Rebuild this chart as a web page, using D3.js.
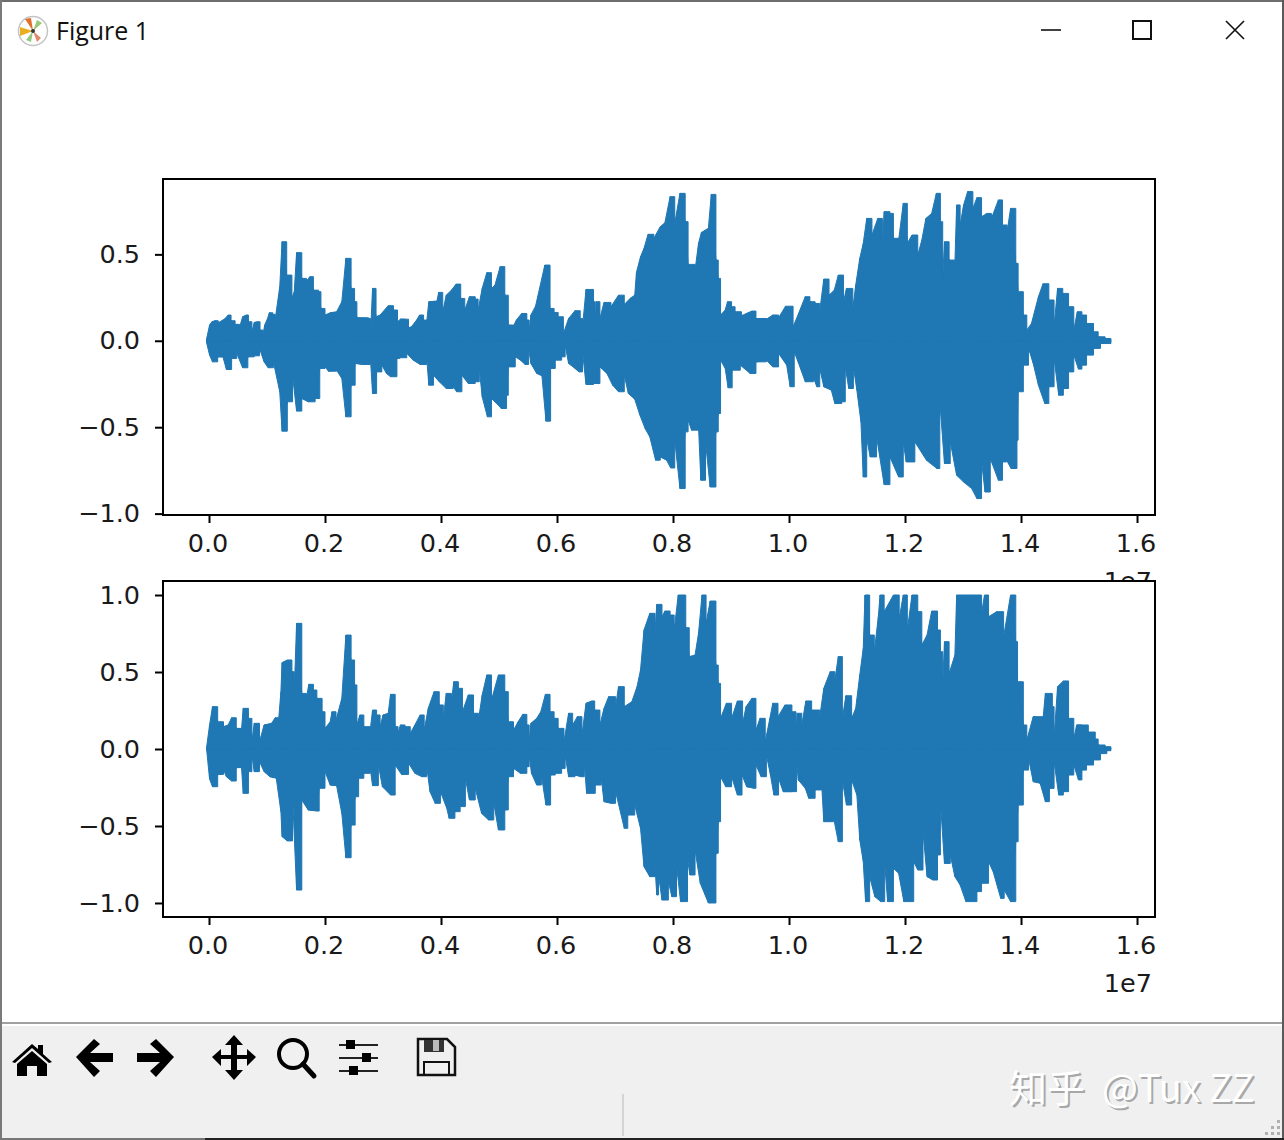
<!DOCTYPE html>
<html>
<head>
<meta charset="utf-8">
<script src="https://cdn.jsdelivr.net/npm/d3@7"></script>
<style>
html, body { margin: 0; padding: 0; background: #fff; overflow: hidden; }
text { font-family: "DejaVu Sans", sans-serif; }
</style>
</head>
<body>
<div id="wrapper"></div>
<script>
// envelope of the waveform, [sample / 1e7, amplitude]
const ch1Top = [[-.004,.013],[.001,.091],[.005,.11],[.010,.116],[.016,.104],[.022,.116],[.028,.129],[.033,.149],[.038,.116],[.045,.095],[.053,.081],[.058,.139],[.064,.149],[.068,.110],[.074,.052],[.078,.106],[.083,.110],[.088,.062],[.093,.033],[.096,.091],[.101,.129],[.104,.162],[.110,.153],[.114,.120],[.122,.313],[.126,.573],[.134,.380],[.143,.249],[.147,.284],[.151,.510],[.160,.361],[.168,.346],[.174,.371],[.180,.293],[.189,.284],[.193,.187],[.200,.149],[.209,.162],[.220,.168],[.229,.226],[.236,.477],[.245,.303],[.251,.226],[.255,.133],[.275,.129],[.279,.081],[.282,.303],[.288,.139],[.295,.149],[.309,.203],[.318,.178],[.325,.110],[.330,.125],[.338,.125],[.344,.075],[.349,.081],[.358,.120],[.363,.149],[.370,.120],[.375,.100],[.379,.226],[.393,.230],[.396,.280],[.403,.168],[.409,.264],[.418,.293],[.426,.328],[.434,.245],[.441,.178],[.449,.255],[.459,.241],[.464,.178],[.471,.303],[.479,.394],[.487,.303],[.493,.322],[.502,.429],[.510,.264],[.516,.091],[.525,.087],[.530,.120],[.539,.158],[.548,.120],[.552,.052],[.555,.149],[.563,.200],[.579,.438],[.588,.187],[.595,.164],[.602,.139],[.611,.042],[.620,.129],[.631,.174],[.640,.129],[.644,.081],[.650,.297],[.663,.226],[.666,.125],[.668,.226],[.674,.129],[.681,.222],[.693,.197],[.706,.264],[.716,.210],[.726,.245],[.734,.264],[.737,.396],[.744,.486],[.750,.535],[.757,.616],[.767,.593],[.778,.660],[.786,.683],[.795,.834],[.803,.680],[.812,.853],[.821,.689],[.826,.442],[.838,.409],[.844,.564],[.849,.627],[.861,.651],[.866,.847],[.874,.467],[.878,.361],[.882,.149],[.890,.178],[.894,.226],[.901,.197],[.907,.168],[.918,.145],[.936,.172],[.943,.129],[.961,.125],[.965,.133],[.972,.149],[.982,.133],[.994,.200],[1.007,.081],[1.013,.129],[1.028,.255],[1.036,.226],[1.045,.216],[1.053,.172],[1.060,.357],[1.069,.264],[1.078,.293],[1.085,.380],[1.094,.226],[1.099,.303],[1.110,.187],[1.115,.322],[1.122,.477],[1.128,.564],[1.134,.708],[1.143,.612],[1.153,.708],[1.161,.525],[1.164,.747],[1.174,.737],[1.180,.593],[1.189,.583],[1.197,.795],[1.204,.564],[1.212,.612],[1.222,.496],[1.229,.583],[1.236,.708],[1.246,.737],[1.254,.853],[1.261,.689],[1.265,.361],[1.268,.573],[1.276,.467],[1.286,.448],[1.289,.786],[1.295,.670],[1.301,.786],[1.308,.863],[1.317,.766],[1.324,.828],[1.332,.718],[1.341,.737],[1.349,.708],[1.361,.815],[1.368,.670],[1.376,.631],[1.382,.766],[1.391,.448],[1.395,.284],[1.404,.149],[1.410,.062],[1.418,.100],[1.430,.255],[1.438,.330],[1.448,.236],[1.457,.081],[1.463,.303],[1.472,.274],[1.482,.197],[1.491,.062],[1.497,.168],[1.505,.149],[1.513,.100],[1.525,.052],[1.533,.023],[1.545,.013],[1.555,.004]];
const ch1Bottom = [[-.004,-.013],[.001,-.083],[.006,-.122],[.015,-.093],[.024,-.093],[.030,-.166],[.039,-.102],[.048,-.073],[.058,-.156],[.067,-.093],[.078,-.087],[.087,-.044],[.095,-.122],[.102,-.156],[.111,-.122],[.122,-.295],[.126,-.523],[.135,-.353],[.144,-.199],[.151,-.407],[.160,-.334],[.171,-.353],[.183,-.334],[.191,-.160],[.200,-.151],[.206,-.176],[.220,-.170],[.229,-.218],[.236,-.440],[.245,-.257],[.252,-.131],[.263,-.137],[.278,-.083],[.282,-.305],[.289,-.180],[.298,-.141],[.306,-.189],[.313,-.208],[.324,-.102],[.329,-.098],[.341,-.073],[.352,-.112],[.364,-.137],[.375,-.083],[.379,-.257],[.387,-.199],[.397,-.237],[.409,-.276],[.421,-.266],[.427,-.295],[.436,-.199],[.447,-.247],[.459,-.237],[.466,-.160],[.471,-.324],[.480,-.440],[.487,-.334],[.499,-.373],[.504,-.392],[.513,-.315],[.516,-.151],[.528,-.093],[.537,-.112],[.545,-.137],[.551,-.044],[.555,-.131],[.565,-.189],[.574,-.203],[.581,-.465],[.589,-.160],[.597,-.112],[.608,-.093],[.614,-.025],[.620,-.131],[.631,-.160],[.638,-.180],[.644,-.064],[.650,-.253],[.663,-.247],[.674,-.151],[.686,-.189],[.696,-.257],[.706,-.295],[.716,-.199],[.723,-.305],[.734,-.338],[.743,-.431],[.752,-.508],[.760,-.556],[.770,-.691],[.778,-.672],[.789,-.691],[.796,-.736],[.803,-.575],[.812,-.855],[.821,-.527],[.826,-.459],[.832,-.517],[.844,-.498],[.848,-.807],[.856,-.585],[.864,-.846],[.874,-.527],[.878,-.421],[.882,-.112],[.890,-.160],[.895,-.272],[.902,-.170],[.916,-.141],[.933,-.189],[.943,-.122],[.961,-.112],[.972,-.151],[.982,-.073],[.996,-.141],[1.002,-.266],[1.009,-.064],[1.016,-.125],[1.028,-.237],[1.042,-.214],[1.048,-.266],[1.053,-.160],[1.060,-.266],[1.073,-.286],[1.079,-.363],[1.091,-.353],[1.097,-.151],[1.103,-.276],[1.111,-.151],[1.117,-.286],[1.124,-.469],[1.128,-.788],[1.134,-.566],[1.140,-.672],[1.151,-.556],[1.164,-.832],[1.174,-.672],[1.189,-.788],[1.197,-.585],[1.202,-.701],[1.217,-.585],[1.237,-.691],[1.255,-.739],[1.260,-.353],[1.268,-.710],[1.278,-.585],[1.289,-.778],[1.301,-.817],[1.315,-.855],[1.324,-.913],[1.332,-.701],[1.338,-.875],[1.347,-.681],[1.361,-.807],[1.368,-.701],[1.375,-.691],[1.383,-.739],[1.393,-.575],[1.395,-.295],[1.404,-.141],[1.413,-.044],[1.421,-.131],[1.430,-.257],[1.441,-.363],[1.448,-.266],[1.457,-.102],[1.465,-.315],[1.473,-.276],[1.482,-.180],[1.491,-.083],[1.499,-.164],[1.505,-.141],[1.513,-.083],[1.525,-.044],[1.537,-.016],[1.555,-.004]];
const ch2Top = [[-.004,.015],[.001,.156],[.006,.275],[.015,.177],[.025,.145],[.033,.156],[.039,.203],[.047,.134],[.056,.123],[.059,.264],[.068,.199],[.074,.048],[.078,.167],[.087,.048],[.095,.156],[.108,.167],[.114,.203],[.120,.188],[.124,.372],[.126,.561],[.135,.578],[.143,.502],[.147,.372],[.151,.816],[.160,.361],[.168,.329],[.172,.420],[.180,.383],[.186,.329],[.195,.242],[.200,.134],[.209,.177],[.212,.242],[.219,.188],[.229,.329],[.236,.740],[.245,.578],[.251,.416],[.255,.156],[.260,.221],[.267,.145],[.278,.123],[.282,.253],[.289,.221],[.295,.145],[.300,.221],[.309,.232],[.313,.355],[.321,.145],[.326,.102],[.330,.156],[.338,.145],[.347,.102],[.355,.156],[.364,.221],[.371,.123],[.378,.264],[.388,.372],[.397,.286],[.404,.199],[.409,.361],[.418,.307],[.422,.437],[.430,.394],[.437,.242],[.447,.351],[.456,.232],[.465,.199],[.471,.351],[.479,.481],[.487,.318],[.499,.481],[.510,.372],[.516,.177],[.525,.123],[.533,.177],[.541,.225],[.548,.156],[.552,.048],[.555,.167],[.565,.199],[.572,.242],[.580,.355],[.588,.242],[.595,.199],[.602,.134],[.612,.048],[.620,.232],[.627,.156],[.635,.210],[.643,.091],[.650,.297],[.660,.312],[.665,.253],[.674,.156],[.681,.264],[.689,.340],[.701,.275],[.706,.405],[.716,.275],[.729,.307],[.738,.405],[.744,.513],[.750,.773],[.760,.881],[.769,.762],[.772,.939],[.781,.859],[.786,.896],[.795,.870],[.802,.773],[.809,1.0],[.822,.788],[.828,.600],[.838,.610],[.844,.751],[.850,1.0],[.857,.816],[.864,.961],[.874,.545],[.878,.426],[.882,.199],[.892,.297],[.901,.199],[.911,.312],[.920,.167],[.926,.275],[.936,.329],[.943,.123],[.950,.199],[.959,.048],[.967,.199],[.972,.297],[.981,.210],[.993,.286],[1.005,.242],[1.012,.091],[1.014,.232],[1.022,.156],[1.029,.312],[1.039,.253],[1.053,.210],[1.060,.394],[1.071,.502],[1.079,.448],[1.085,.600],[1.092,.199],[1.098,.346],[1.108,.199],[1.115,.264],[1.122,.481],[1.128,.654],[1.131,1.0],[1.139,.740],[1.147,.632],[1.154,.859],[1.157,1.0],[1.164,.892],[1.180,1.0],[1.190,.848],[1.197,1.0],[1.204,.773],[1.212,1.0],[1.222,.892],[1.229,.675],[1.238,.740],[1.246,.896],[1.256,.773],[1.261,.632],[1.265,.416],[1.268,.697],[1.276,.491],[1.286,.610],[1.289,1.0],[1.332,.881],[1.337,1.0],[1.344,.859],[1.358,.892],[1.370,.729],[1.382,1.0],[1.391,.697],[1.394,.437],[1.404,.156],[1.410,.058],[1.421,.210],[1.438,.199],[1.442,.361],[1.454,.275],[1.457,.069],[1.463,.405],[1.473,.442],[1.482,.199],[1.491,.069],[1.496,.156],[1.505,.156],[1.516,.110],[1.528,.065],[1.533,.026],[1.545,.015],[1.555,.004]];
const ch2Bottom = [[-.004,-.006],[.001,-.195],[.006,-.245],[.015,-.165],[.025,-.136],[.030,-.180],[.039,-.208],[.047,-.121],[.056,-.115],[.059,-.288],[.068,-.147],[.074,-.039],[.078,-.147],[.087,-.082],[.095,-.147],[.105,-.180],[.116,-.190],[.124,-.407],[.126,-.569],[.135,-.597],[.144,-.299],[.151,-.916],[.160,-.331],[.171,-.396],[.186,-.403],[.190,-.255],[.200,-.147],[.209,-.234],[.220,-.238],[.229,-.418],[.236,-.706],[.245,-.494],[.252,-.310],[.258,-.190],[.267,-.158],[.278,-.126],[.282,-.238],[.292,-.104],[.299,-.245],[.313,-.299],[.321,-.104],[.332,-.165],[.344,-.093],[.355,-.158],[.367,-.180],[.375,-.104],[.381,-.277],[.390,-.353],[.399,-.277],[.410,-.385],[.414,-.450],[.424,-.407],[.433,-.374],[.442,-.190],[.449,-.331],[.459,-.255],[.470,-.418],[.482,-.461],[.491,-.353],[.499,-.526],[.510,-.396],[.516,-.180],[.525,-.126],[.537,-.158],[.548,-.115],[.552,-.039],[.556,-.158],[.565,-.234],[.573,-.169],[.581,-.364],[.589,-.169],[.597,-.158],[.608,-.126],[.614,-.039],[.620,-.180],[.631,-.169],[.641,-.180],[.647,-.082],[.651,-.288],[.666,-.234],[.676,-.180],[.681,-.342],[.693,-.353],[.701,-.277],[.716,-.515],[.722,-.429],[.734,-.364],[.744,-.515],[.750,-.764],[.760,-.829],[.769,-.764],[.772,-.948],[.775,-.818],[.781,-.981],[.792,-.861],[.798,-.959],[.806,-.753],[.813,-.991],[.825,-.710],[.829,-.818],[.838,-.656],[.847,-.872],[.861,-1.0],[.874,-.677],[.878,-.472],[.882,-.180],[.891,-.245],[.901,-.180],[.911,-.299],[.919,-.169],[.927,-.245],[.939,-.255],[.943,-.104],[.952,-.180],[.961,-.039],[.968,-.169],[.974,-.299],[.982,-.191],[.990,-.277],[1.005,-.277],[1.013,-.082],[1.016,-.201],[1.028,-.255],[1.034,-.320],[1.045,-.266],[1.056,-.212],[1.060,-.472],[1.077,-.450],[1.085,-.602],[1.092,-.201],[1.099,-.364],[1.108,-.201],[1.117,-.299],[1.122,-.591],[1.128,-.731],[1.132,-.991],[1.139,-.829],[1.148,-.959],[1.158,-.991],[1.165,-.743],[1.170,-.991],[1.180,-.775],[1.189,-.807],[1.198,-.991],[1.215,-.732],[1.222,-.786],[1.231,-.537],[1.238,-.829],[1.248,-.851],[1.256,-.688],[1.261,-.342],[1.268,-.743],[1.278,-.688],[1.286,-.829],[1.295,-.883],[1.305,-.991],[1.324,-.926],[1.332,-.872],[1.344,-.732],[1.352,-.797],[1.365,-.970],[1.371,-.916],[1.382,-.991],[1.391,-.602],[1.395,-.364],[1.404,-.137],[1.413,-.061],[1.421,-.212],[1.433,-.223],[1.442,-.342],[1.449,-.256],[1.457,-.082],[1.465,-.299],[1.473,-.277],[1.482,-.169],[1.491,-.104],[1.499,-.201],[1.505,-.137],[1.513,-.104],[1.525,-.071],[1.537,-.030],[1.548,-.011],[1.555,0]];

const xTicks = [0, .2, .4, .6, .8, 1.0, 1.2, 1.4, 1.6];
const y1Ticks = [-1, -.5, 0, .5];
const y2Ticks = [-1, -.5, 0, .5, 1];

const width = 1284, height = 1140;
const blue = "#1f77b4";
const left = 163, right = 1155;
const tickFont = "25.5px";

const svg = d3.select("#wrapper").append("svg")
    .attr("width", width)
    .attr("height", height)
    .style("display", "block");

svg.append("rect").attr("width", width).attr("height", height).attr("fill", "#fff");

function panel(top, bottom, yDomain, yTicks, upper, lower) {
    const x = d3.scaleLinear().domain([-.0793, 1.631]).range([left, right]);
    const y = d3.scaleLinear().domain(yDomain).range([bottom, top]);
    const g = svg.append("g");

    g.append("rect")
        .attr("x", left).attr("y", top)
        .attr("width", right - left).attr("height", bottom - top)
        .attr("fill", "#fff");

    // step keeps the spikes square, linear fills the notches between reads
    [d3.curveStepAfter, d3.curveLinear].forEach(c => {
        const area = d3.area()
            .curve(c)
            .x(d => x(d[0]))
            .y0(y(0))
            .y1(d => y(d[1]));
        [upper, lower].forEach(s => {
            g.append("path")
                .attr("d", area(s))
                .attr("fill", blue)
                .attr("stroke", blue)
                .attr("stroke-width", 1);
        });
    });

    const xAxis = g.append("g")
        .attr("transform", "translate(0," + bottom + ")")
        .call(d3.axisBottom(x).tickValues(xTicks).tickFormat(d3.format(".1f")).tickSize(8).tickPadding(11));
    const yAxis = g.append("g")
        .attr("transform", "translate(" + left + ",0)")
        .call(d3.axisLeft(y).tickValues(yTicks).tickFormat(d3.format(".1f")).tickSize(8).tickPadding(15));
    xAxis.selectAll("text").attr("dx", -1.5);
    [xAxis, yAxis].forEach(a => {
        a.select(".domain").remove();
        a.selectAll("line").attr("stroke", "#000").attr("stroke-width", 2);
        a.selectAll("text")
            .attr("fill", "#1a1a1a")
            .style("font-family", '"DejaVu Sans"')
            .style("font-size", tickFont);
    });

    g.append("rect")
        .attr("x", left).attr("y", top)
        .attr("width", right - left).attr("height", bottom - top)
        .attr("fill", "none")
        .attr("stroke", "#000")
        .attr("stroke-width", 2);

    return g;
}

function offsetText(bottom) {
    svg.append("text")
        .attr("x", 1152).attr("y", bottom + 75)
        .attr("text-anchor", "end")
        .attr("fill", "#1a1a1a")
        .style("font-family", '"DejaVu Sans"')
        .style("font-size", tickFont)
        .text("1e7");
}

offsetText(515);
panel(179, 515, [-1.008, .936], y1Ticks, ch1Top, ch1Bottom);
panel(581, 917, [-1.091, 1.091], y2Ticks, ch2Top, ch2Bottom);
offsetText(917);

// window frame
svg.append("rect").attr("width", width).attr("height", 2).attr("fill", "#6e6e6e");
svg.append("rect").attr("width", 2).attr("height", height).attr("fill", "#7a7a7a");
svg.append("rect").attr("x", 1282).attr("width", 2).attr("height", height).attr("fill", "#5a5a5a");

// title bar
const icon = svg.append("g").attr("transform", "translate(33,31)");
icon.append("circle").attr("r", 14.5).attr("fill", "#fff").attr("stroke", "#c4c4c4").attr("stroke-width", 1.5);
[["M0,0L-8,-12L-2,-13Z", "#e0702a"], ["M0,0L-13,-4L-13,5Z", "#e8b020"], ["M0,0L4,-11L9,-8Z", "#98c878"], ["M0,0L8,7L4,11Z", "#e08a6a"], ["M0,0L-2,11L-7,9Z", "#90c880"]]
    .forEach(p => icon.append("path").attr("d", p[0]).attr("fill", p[1]));
icon.append("circle").attr("r", 2).attr("fill", "#333");
svg.append("text").attr("x", 56).attr("y", 40)
    .style("font-family", '"Open Sans"').style("font-size", "25px").attr("fill", "#111").text("Figure 1");

svg.append("line").attr("x1", 1041).attr("x2", 1061).attr("y1", 30).attr("y2", 30).attr("stroke", "#111").attr("stroke-width", 1.6);
svg.append("rect").attr("x", 1133).attr("y", 21).attr("width", 18).attr("height", 18).attr("fill", "none").attr("stroke", "#111").attr("stroke-width", 2);
svg.append("path").attr("d", "M1226,21L1244,39M1244,21L1226,39").attr("stroke", "#111").attr("stroke-width", 1.6);

// toolbar
svg.append("rect").attr("x", 2).attr("y", 1022).attr("width", 1280).attr("height", 2).attr("fill", "#a0a0a0");
svg.append("rect").attr("x", 2).attr("y", 1026).attr("width", 1280).attr("height", 112).attr("fill", "#f0f0f0");
svg.append("rect").attr("y", 1138).attr("width", 205).attr("height", 2).attr("fill", "#777");
svg.append("rect").attr("x", 205).attr("y", 1138).attr("width", 1079).attr("height", 2).attr("fill", "#222");
svg.append("rect").attr("x", 622).attr("y", 1094).attr("width", 2).attr("height", 42).attr("fill", "#d4d4d4");

const tb = svg.append("g").attr("fill", "#000");
tb.append("path").attr("d", "M12,1062L32,1044L38,1049L38,1045L43,1045L43,1054L52,1062L49,1063L32,1048L15,1063Z");
tb.append("path").attr("d", "M17,1076L17,1064L32,1051L47,1064L47,1076L37,1076L37,1066L27,1066L27,1076Z");
tb.append("path").attr("d", "M76,1057L94,1039L100,1044L90,1053L113,1053L113,1062L90,1062L100,1071L94,1077Z");
tb.append("path").attr("d", "M174,1057L156,1039L150,1044L160,1053L137,1053L137,1062L160,1062L150,1071L156,1077Z");
tb.append("path").attr("d", "M234,1035L243,1045L237,1045L237,1055L247,1055L247,1049L256,1057L247,1066L247,1059L237,1059L237,1070L243,1070L234,1080L225,1070L231,1070L231,1059L221,1059L221,1066L212,1057L221,1049L221,1055L231,1055L231,1045L225,1045Z");
tb.append("circle").attr("cx", 293).attr("cy", 1054).attr("r", 14).attr("fill", "none").attr("stroke", "#000").attr("stroke-width", 4);
tb.append("line").attr("x1", 303).attr("y1", 1064).attr("x2", 314).attr("y2", 1076).attr("stroke", "#000").attr("stroke-width", 5).attr("stroke-linecap", "round");
[[1045, 350], [1058, 366], [1071, 353]].forEach(s => {
    tb.append("line").attr("x1", 339).attr("x2", 378).attr("y1", s[0]).attr("y2", s[0]).attr("stroke", "#222").attr("stroke-width", 2);
    tb.append("rect").attr("x", s[1] - 4).attr("y", s[0] - 5).attr("width", 9).attr("height", 9);
});
tb.append("path").attr("d", "M418,1039L447,1039L455,1047L455,1075L418,1075Z").attr("fill", "none").attr("stroke", "#111").attr("stroke-width", 2.5);
tb.append("rect").attr("x", 424).attr("y", 1040).attr("width", 20).attr("height", 12).attr("fill", "#333");
tb.append("rect").attr("x", 433).attr("y", 1040).attr("width", 6).attr("height", 11).attr("fill", "#bbb");
tb.append("rect").attr("x", 424).attr("y", 1062).attr("width", 25).attr("height", 13).attr("fill", "none").attr("stroke", "#111").attr("stroke-width", 2);

// resize grip
[[1277, 1120], [1277, 1126], [1271, 1126], [1277, 1132], [1271, 1132], [1265, 1132]].forEach(p => {
    svg.append("rect").attr("x", p[0]).attr("y", p[1]).attr("width", 3).attr("height", 3).attr("fill", "#b0b0b0");
});

// watermark
function watermark(dx, dy, colour) {
    const t = svg.append("text").attr("x", 1009 + dx).attr("y", 1102 + dy)
        .attr("fill", colour)
        .style("font-family", '"Noto Sans CJK SC"').style("font-size", "38px");
    t.append("tspan").text("知乎");
    t.append("tspan").attr("dx", 17).text("@Tux ZZ");
}
watermark(2, 2, "#a8a8a8");
watermark(0, 0, "#fff");
</script>
</body>
</html>
